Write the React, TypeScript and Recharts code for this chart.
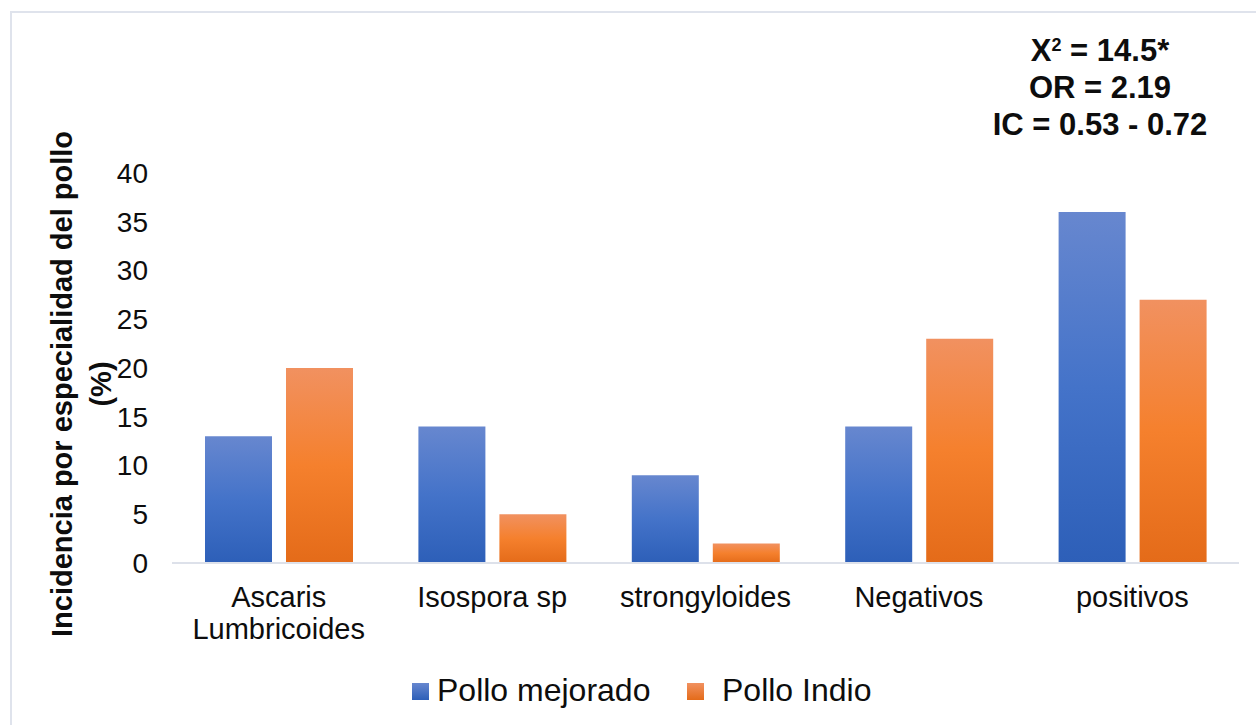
import React from 'react';
import { BarChart, Bar, XAxis, YAxis, Legend, Label } from 'recharts';

const categories = ['Ascaris\nLumbricoides', 'Isospora sp', 'strongyloides', 'Negativos', 'positivos'];
const polloMejorado = [13, 14, 9, 14, 36];
const polloIndio = [20, 5, 2, 23, 27];
const yTicks = [0, 5, 10, 15, 20, 25, 30, 35, 40];
const statsLines = ['X² = 14.5*', 'OR = 2.19', 'IC = 0.53 - 0.72'];

const seriesInfo = [
  { key: 'mejorado', name: 'Pollo mejorado', color: '#4472c4' },
  { key: 'indio', name: 'Pollo Indio', color: '#ed7d31' },
];

const data = categories.map((c, i) => ({
  categoria: c,
  mejorado: polloMejorado[i],
  indio: polloIndio[i],
}));

const FONT = '"Liberation Sans", Arial, Helvetica, sans-serif';
const TEXT = '#0d0d0d';

// category labels can span two lines
function CategoryTick(props: any) {
  const { x, y, payload } = props;
  const lines = String(payload.value).split('\n');
  return (
    <g>
      {lines.map((line, i) => (
        <text
          key={i}
          x={x}
          y={y + 44 + i * 32}
          textAnchor="middle"
          fontSize={29}
          fontFamily={FONT}
          fill={TEXT}
        >
          {line}
        </text>
      ))}
    </g>
  );
}

function YTitle(props: any) {
  const cx = 72;
  const cy = 384;
  return (
    <g>
      <text
        x={cx}
        y={cy}
        transform={`rotate(-90, ${cx}, ${cy})`}
        textAnchor="middle"
        fontSize={29}
        fontWeight="bold"
        fontFamily={FONT}
        fill={TEXT}
      >
        Incidencia por especialidad del pollo
      </text>
      <text
        x={cx + 39}
        y={cy}
        transform={`rotate(-90, ${cx + 39}, ${cy})`}
        textAnchor="middle"
        fontSize={29}
        fontWeight="bold"
        fontFamily={FONT}
        fill={TEXT}
      >
        (%)
      </text>
    </g>
  );
}

function LegendContent() {
  const items = [
    { ...seriesInfo[0], box: 412, label: 437 },
    { ...seriesInfo[1], box: 687, label: 722 },
  ];
  return (
    <svg width={1256} height={62} style={{ display: 'block' }}>
      {items.map((it) => (
        <g key={it.key}>
          <rect x={it.box} y={20} width={17} height={17} fill={`url(#leg-${it.key})`} />
          <text x={it.label} y={38} fontSize={32} fontFamily={FONT} fill={TEXT}>
            {it.name}
          </text>
        </g>
      ))}
      <defs>
        <linearGradient id="leg-mejorado" x1="0" y1="0" x2="0" y2="1">
          <stop offset="0%" stopColor="#6787cf" />
          <stop offset="100%" stopColor="#2d5fb8" />
        </linearGradient>
        <linearGradient id="leg-indio" x1="0" y1="0" x2="0" y2="1">
          <stop offset="0%" stopColor="#f19160" />
          <stop offset="100%" stopColor="#e46b19" />
        </linearGradient>
      </defs>
    </svg>
  );
}

// renders "²" as a raised small digit
function StatLine({ text }: { text: string }) {
  const parts = text.split('²');
  if (parts.length === 1) return <div>{text}</div>;
  return (
    <div>
      {parts[0]}
      <span style={{ fontSize: 18, lineHeight: 0, position: 'relative', top: -10 }}>2</span>
      {parts[1]}
    </div>
  );
}

export default function App() {
  return (
    <div style={{ position: 'absolute', left: 0, top: 0, width: 1256, height: 725, background: '#fff', overflow: 'hidden' }}>
      {/* thin frame on the left and top edges */}
      <div
        style={{
          position: 'absolute',
          left: 10,
          top: 11,
          width: 1400,
          height: 900,
          borderLeft: '2px solid #dfe3ec',
          borderTop: '2px solid #dfe3ec',
        }}
      />
      <BarChart
        width={1256}
        height={725}
        data={data}
        margin={{ top: 173, right: 17, left: 112, bottom: 0 }}
        barSize={67}
        barGap={14}
        style={{ position: 'absolute', left: 0, top: 0 }}
      >
        <defs>
          <linearGradient id="gradMejorado" x1="0" y1="0" x2="0" y2="1">
            <stop offset="0%" stopColor="#6787cf" />
            <stop offset="50%" stopColor="#4473c9" />
            <stop offset="100%" stopColor="#2d5fb8" />
          </linearGradient>
          <linearGradient id="gradIndio" x1="0" y1="0" x2="0" y2="1">
            <stop offset="0%" stopColor="#f19160" />
            <stop offset="50%" stopColor="#f5802d" />
            <stop offset="100%" stopColor="#e46b19" />
          </linearGradient>
        </defs>
        <XAxis
          dataKey="categoria"
          height={100}
          tickLine={false}
          tickSize={0}
          tickMargin={0}
          axisLine={{ stroke: '#dde1ea', strokeWidth: 2 }}
          tick={<CategoryTick />}
          interval={0}
        />
        <YAxis
          width={60}
          domain={[0, 40]}
          ticks={yTicks}
          interval={0}
          axisLine={false}
          tickLine={false}
          tickSize={0}
          tickMargin={24}
          tick={{ fontSize: 28, fontFamily: FONT, fill: TEXT }}
        >
          <Label content={<YTitle />} />
        </YAxis>
        <Legend
          verticalAlign="bottom"
          height={62}
          wrapperStyle={{ left: 0, width: 1256, height: 62 }}
          content={<LegendContent />}
        />
        <Bar dataKey="mejorado" name={seriesInfo[0].name} fill="url(#gradMejorado)" isAnimationActive={false} />
        <Bar dataKey="indio" name={seriesInfo[1].name} fill="url(#gradIndio)" isAnimationActive={false} />
      </BarChart>
      {/* test statistics, top right */}
      <div
        style={{
          position: 'absolute',
          left: 900,
          top: 32,
          width: 400,
          textAlign: 'center',
          fontFamily: FONT,
          fontWeight: 'bold',
          fontSize: 31,
          lineHeight: '37px',
          color: TEXT,
        }}
      >
        {statsLines.map((l) => (
          <StatLine key={l} text={l} />
        ))}
      </div>
    </div>
  );
}
